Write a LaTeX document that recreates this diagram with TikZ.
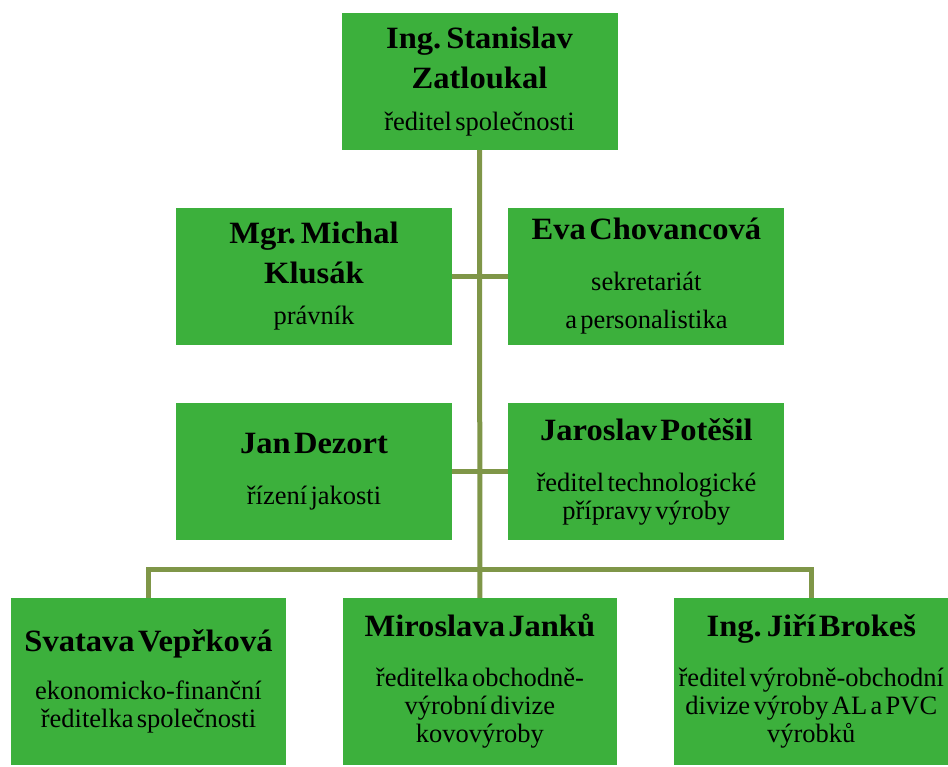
\documentclass[tikz,border=0pt]{standalone}
\usepackage{fontspec}
\setmainfont{Liberation Serif}[WordSpace=2, BoldFeatures={FakeStretch=1.05}]
\usepackage{tikz}
\usetikzlibrary{positioning}
\usepackage{color}

\definecolor{boxgreen}{RGB}{60,176,60}
\definecolor{linkolive}{RGB}{127,150,72}

\newcommand\jmeno[1]{{\vspace*{8bp}\lineskiplimit=-100bp\fontsize{31bp}{32bp}\selectfont\bfseries #1\par}}
\newcommand\funkce[1]{{\lineskiplimit=-100bp\fontsize{26.5bp}{28bp}\selectfont #1\par}}

\begin{document}
\begin{tikzpicture}[
        x=1bp, y=-1bp,
        box/.style={rectangle, fill=boxgreen, minimum width=276bp, minimum height=137bp,
                    text width=274bp, align=center, inner sep=0pt},
        lowbox/.style={box, minimum width=274bp, minimum height=167bp},
        link/.style={draw=linkolive, line width=5bp}
    ]
        \useasboundingbox (0,0) rectangle (948,767);

        % Director
        \node[box] (zatloukal) at (479.5,81.5)
            {\jmeno{Ing. Stanislav\par Zatloukal}\vspace{14bp}\funkce{ředitel společnosti}};

        % Staff
        \node[box] (klusak) at (314,276.5)
            {\jmeno{Mgr. Michal\par Klusák}\vspace{13bp}\funkce{právník}};
        \node[box, right=56bp of klusak] (chovancova)
            {\jmeno{Eva Chovancová}\vspace{15bp}\funkce{sekretariát\par\vspace{10bp}a personalistika}};
        \node[box, below=58bp of klusak] (dezort)
            {\jmeno{Jan Dezort}\vspace{15bp}\funkce{řízení jakosti}};
        \node[box, below=58bp of chovancova] (potesil)
            {\jmeno{Jaroslav Potěšil}\vspace{15bp}\funkce{ředitel technologické\par přípravy výroby}};

        % Divisions
        \node[lowbox] (veprkova) at (148.5,681.5)
            {\jmeno{Svatava Vepřková}\vspace{12bp}\funkce{ekonomicko-finanční\par ředitelka společnosti}};
        \node[lowbox, right=57bp of veprkova] (janku)
            {\jmeno{Miroslava Janků}\vspace{14bp}\funkce{ředitelka obchodně-\par výrobní divize\par kovovýroby}};
        \node[lowbox, right=57bp of janku] (brokes)
            {\jmeno{Ing. Jiří Brokeš}\vspace{14bp}\funkce{ředitel výrobně-obchodní\par divize výroby AL a PVC\par výrobků}};

        % Edges
        \draw[link] (zatloukal.south) -- (janku.north);
        \draw[link] (klusak.east) -- (chovancova.west);
        \draw[link] (dezort.east) -- (potesil.west);
        \draw[link] (veprkova.north) |- ([yshift=28bp]janku.north) -| (brokes.north);
    \end{tikzpicture}
\end{document}
